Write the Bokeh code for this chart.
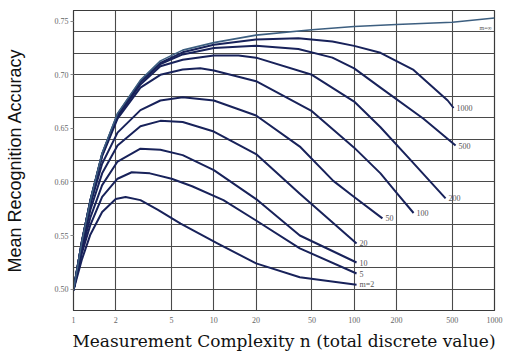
from bokeh.plotting import figure
from bokeh.models import FixedTicker, PrintfTickFormatter, ColumnDataSource
from bokeh.core.properties import value
from bokeh.embed import file_html
from bokeh.resources import INLINE

# ---- data ----
x_ticks = [1, 2, 5, 10, 20, 50, 100, 200, 500, 1000]
y_ticks = [0.50, 0.55, 0.60, 0.65, 0.70, 0.75]
y_grid = [0.50, 0.52, 0.54, 0.56, 0.58, 0.60, 0.62, 0.64, 0.66, 0.68, 0.70, 0.72, 0.74]
x_grid = [2, 5, 10, 20, 50, 100, 200, 500]

n_m2 = [1, 1.15, 1.32, 1.6, 2.0, 2.35, 3, 4, 5.8, 10.6, 20, 41, 104]
acc_m2 = [0.499, 0.528, 0.551, 0.572, 0.584, 0.586, 0.583, 0.574, 0.561, 0.5426, 0.524, 0.511, 0.504]

n_m5 = [1, 1.15, 1.32, 1.6, 2.06, 2.6, 3.5, 5, 7, 11.7, 20, 41, 104]
acc_m5 = [0.499, 0.534, 0.560, 0.586, 0.603, 0.609, 0.608, 0.603, 0.596, 0.583, 0.564, 0.538, 0.5145]

n_m10 = [1, 1.15, 1.32, 1.6, 2.06, 3, 4.16, 6, 10, 20.5, 41, 104]
acc_m10 = [0.499, 0.537, 0.567, 0.597, 0.619, 0.631, 0.630, 0.625, 0.611, 0.583, 0.550, 0.5248]

n_m20 = [1, 1.15, 1.32, 1.6, 2.06, 3, 4.16, 6, 10, 20, 41, 104]
acc_m20 = [0.499, 0.540, 0.574, 0.608, 0.634, 0.652, 0.657, 0.656, 0.647, 0.626, 0.589, 0.5426]

n_m50 = [1, 1.15, 1.32, 1.6, 2.06, 3, 4.16, 6, 10, 20, 41, 71, 100, 159]
acc_m50 = [0.499, 0.543, 0.579, 0.617, 0.646, 0.667, 0.676, 0.679, 0.676, 0.662, 0.633, 0.601, 0.586, 0.566]

n_m100 = [1, 1.15, 1.32, 1.6, 2.06, 3, 4.16, 6, 8, 10, 20, 50, 100, 154, 200, 265]
acc_m100 = [0.499, 0.545, 0.582, 0.624, 0.659, 0.688, 0.700, 0.705, 0.706, 0.704, 0.694, 0.666, 0.632, 0.608, 0.590, 0.571]

n_m200 = [1, 1.15, 1.32, 1.6, 2.06, 3, 4.16, 6, 10, 15, 20, 50, 100, 154, 250, 448]
acc_m200 = [0.499, 0.545, 0.583, 0.625, 0.661, 0.691, 0.708, 0.714, 0.718, 0.718, 0.716, 0.700, 0.675, 0.651, 0.621, 0.5846]

n_m500 = [1, 1.15, 1.32, 1.6, 2.06, 3, 4.16, 6, 10, 20, 40, 70, 100, 154, 312, 528]
acc_m500 = [0.499, 0.545, 0.583, 0.626, 0.662, 0.693, 0.710, 0.719, 0.725, 0.727, 0.724, 0.716, 0.706, 0.688, 0.659, 0.634]

n_m1000 = [1, 1.15, 1.32, 1.6, 2.06, 3, 4.16, 6, 10, 20, 40, 70, 100, 154, 265, 464, 511]
acc_m1000 = [0.499, 0.545, 0.583, 0.626, 0.663, 0.694, 0.711, 0.721, 0.728, 0.733, 0.734, 0.731, 0.727, 0.7205, 0.7045, 0.676, 0.669]

n_inf = [1, 1.15, 1.32, 1.6, 2.06, 3, 4.16, 6, 10, 20, 50, 100, 200, 500, 1000]
acc_inf = [0.499, 0.545, 0.583, 0.627, 0.664, 0.695, 0.713, 0.723, 0.730, 0.737, 0.742, 0.745, 0.747, 0.749, 0.753]

curve_names = ["m=2", "5", "10", "20", "50", "100", "200", "500", "1000"]
curves_n = [n_m2, n_m5, n_m10, n_m20, n_m50, n_m100, n_m200, n_m500, n_m1000]
curves_acc = [acc_m2, acc_m5, acc_m10, acc_m20, acc_m50, acc_m100, acc_m200, acc_m500, acc_m1000]
inf_name = "m=\u221e"

# ---- figure ----
p = figure(width=504, height=354, x_axis_type="log",
           x_range=(1, 1000), y_range=(0.48, 0.76),
           output_backend="svg", toolbar_location=None,
           min_border_left=73, min_border_right=10,
           min_border_top=10, min_border_bottom=44)
p.background_fill_color = "white"
p.border_fill_color = "white"
p.outline_line_color = "#3a3a3a"
p.outline_line_width = 1.2

p.xgrid.ticker = FixedTicker(ticks=x_grid)
p.ygrid.ticker = FixedTicker(ticks=y_grid)
for g in (p.xgrid, p.ygrid):
    g.grid_line_color = "#4a4a4a"
    g.grid_line_width = 1.1
    g.grid_line_alpha = 1.0

p.xaxis.ticker = FixedTicker(ticks=x_ticks)
p.xaxis.formatter = PrintfTickFormatter(format="%d")
p.yaxis.ticker = FixedTicker(ticks=y_ticks)
p.yaxis.formatter = PrintfTickFormatter(format="%.2f")

for ax in (p.xaxis, p.yaxis):
    ax.minor_tick_line_color = None
    ax.axis_line_color = "#3a3a3a"
    ax.major_label_text_font = "Liberation Serif"
    ax.major_label_text_font_size = "8px"
    ax.major_label_text_color = "#666666"
    ax.major_tick_line_color = "#888888"

p.xaxis.major_tick_out = 0
p.xaxis.major_tick_in = 0
p.xaxis.major_label_standoff = 6
p.yaxis.major_tick_out = 3
p.yaxis.major_tick_in = 0
p.yaxis.major_label_standoff = 2

p.yaxis.axis_label = "Mean Recognition Accuracy"
p.yaxis.axis_label_text_font = "Liberation Sans"
p.yaxis.axis_label_text_font_size = "18px"
p.yaxis.axis_label_text_font_style = "normal"
p.yaxis.axis_label_text_color = "#111111"
p.yaxis.axis_label_standoff = 27

p.xaxis.axis_label = "Measurement Complexity n (total discrete value)"
p.xaxis.axis_label_text_font = "DejaVu Serif"
p.xaxis.axis_label_text_font_size = "17px"
p.xaxis.axis_label_text_font_style = "normal"
p.xaxis.axis_label_text_color = "#111111"
p.xaxis.axis_label_standoff = 5

line_col = "#18225a"
for nm, xs, ys in zip(curve_names, curves_n, curves_acc):
    p.line(xs, ys, line_color=line_col, line_width=2.0, line_join="round")

p.line(n_inf, acc_inf, line_color="#3d5f80", line_width=1.6)

# curve-end labels
lab_x = [xs[-1] for xs in curves_n]
lab_y = [ys[-1] for ys in curves_acc]
src = ColumnDataSource(dict(x=lab_x, y=lab_y, t=curve_names))
p.text(x="x", y="y", text="t", source=src, x_offset=3, text_baseline="middle",
       text_font=value("Liberation Serif"), text_font_size="8px", text_color="#555555")

p.text(x=[n_inf[-1]], y=[acc_inf[-1]], text=[inf_name], x_offset=-15, y_offset=10,
       text_baseline="middle", text_align="left",
       text_font=value("Liberation Serif"), text_font_size="6px", text_color="#555555")

open("out.html", "w").write(file_html(p, INLINE))
